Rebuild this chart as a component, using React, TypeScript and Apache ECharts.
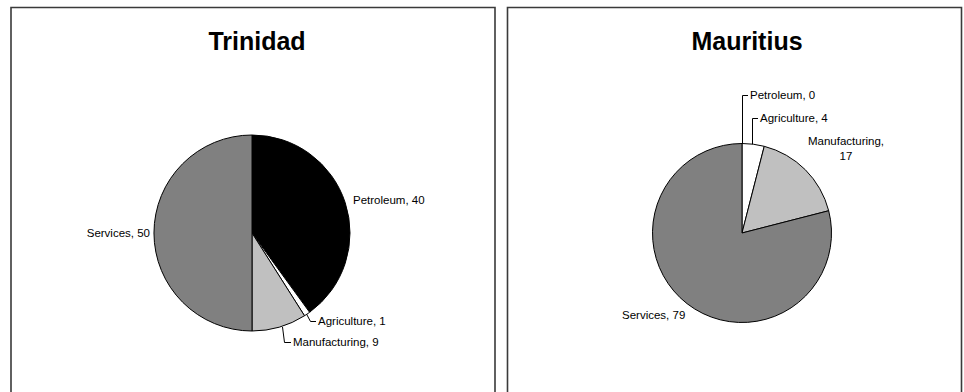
import React, { useEffect, useRef } from "react";
import * as echarts from "echarts";

// ---- data ----
const categories = ["Petroleum", "Agriculture", "Manufacturing", "Services"];
const trinidadValues = [40, 1, 9, 50];
const mauritiusValues = [0, 4, 17, 79];
const chartTitles = ["Trinidad", "Mauritius"];

// ---- styles / layout ----
const sliceColors = ["#000000", "#ffffff", "#c0c0c0", "#808080"];
const FONT = "'Liberation Sans', Arial, Helvetica, sans-serif";

type Placement = {
  x: number;
  y: number;
  align: "left" | "right" | "center";
  line: number[][] | null;
  wrap?: boolean;
};

const pieCenters = [
  [252, 233],
  [742, 233],
];
const pieRadii = [98, 89.5];

const labelPlacements: Placement[][] = [
  [
    { x: 353, y: 200, align: "left", line: null },
    { x: 318, y: 321, align: "left", line: [[306.5, 314], [310.5, 321.5], [316, 321.5]] },
    { x: 293, y: 342, align: "left", line: [[282.5, 327], [284.5, 342.5], [291, 342.5]] },
    { x: 150, y: 233, align: "right", line: null },
  ],
  [
    { x: 750, y: 95, align: "left", line: [[742.5, 144], [742.5, 95.5], [748, 95.5]] },
    { x: 760, y: 118, align: "left", line: [[752.5, 145], [752.5, 118.5], [758, 118.5]] },
    { x: 846, y: 148, align: "center", line: null, wrap: true },
    { x: 622, y: 315, align: "left", line: null },
  ],
];

const panelRects = [
  { x: 11, y: 7.5, width: 484, height: 400 },
  { x: 507.5, y: 7.5, width: 454, height: 400 },
];

function buildSeries(values: number[], idx: number) {
  return {
    type: "pie",
    name: chartTitles[idx],
    center: pieCenters[idx],
    radius: pieRadii[idx],
    startAngle: 90,
    clockwise: true,
    avoidLabelOverlap: false,
    silent: true,
    emphasis: { disabled: true },
    itemStyle: { borderColor: "#000000", borderWidth: 1 },
    label: {
      show: true,
      position: "outside",
      color: "#000000",
      fontFamily: FONT,
      fontSize: 11.5,
      lineHeight: 15,
      formatter: (p: any) => {
        const pl = labelPlacements[idx][p.dataIndex];
        return pl.wrap ? `${p.name},\n${p.value}` : `${p.name}, ${p.value}`;
      },
    },
    labelLine: {
      show: true,
      lineStyle: { color: "#000000", width: 1 },
    },
    labelLayout: (p: any) => {
      const pl = labelPlacements[idx][p.dataIndex];
      const out: any = {
        x: pl.x,
        y: pl.y,
        align: pl.align,
        verticalAlign: "middle",
        hideOverlap: false,
      };
      if (pl.line) out.labelLinePoints = pl.line;
      return out;
    },
    data: categories.map((c, i) => ({
      name: c,
      value: values[i],
      itemStyle: { color: sliceColors[i] },
      labelLine: { show: labelPlacements[idx][i].line !== null },
    })),
  };
}

export default function App() {
  const ref = useRef<HTMLDivElement>(null);
  useEffect(() => {
    if (!ref.current) return;
    const chart = echarts.init(ref.current, null, { renderer: "svg" });
    chart.setOption({
      animation: false,
      backgroundColor: "#ffffff",
      title: chartTitles.map((t, i) => ({
        text: t,
        left: pieCenters[i][0],
        top: 23,
        textAlign: "center",
        textStyle: {
          fontFamily: FONT,
          fontSize: 25,
          fontWeight: "bold",
          color: "#000000",
        },
      })),
      graphic: panelRects.map((r) => ({
        type: "rect",
        shape: r,
        z: -10,
        silent: true,
        style: { fill: "none", stroke: "#3a3a3a", lineWidth: 1.6 },
      })),
      series: [buildSeries(trinidadValues, 0), buildSeries(mauritiusValues, 1)],
    });
    return () => chart.dispose();
  }, []);
  return (
    <div
      ref={ref}
      style={{ position: "fixed", left: 0, top: 0, width: 964, height: 392 }}
    />
  );
}
